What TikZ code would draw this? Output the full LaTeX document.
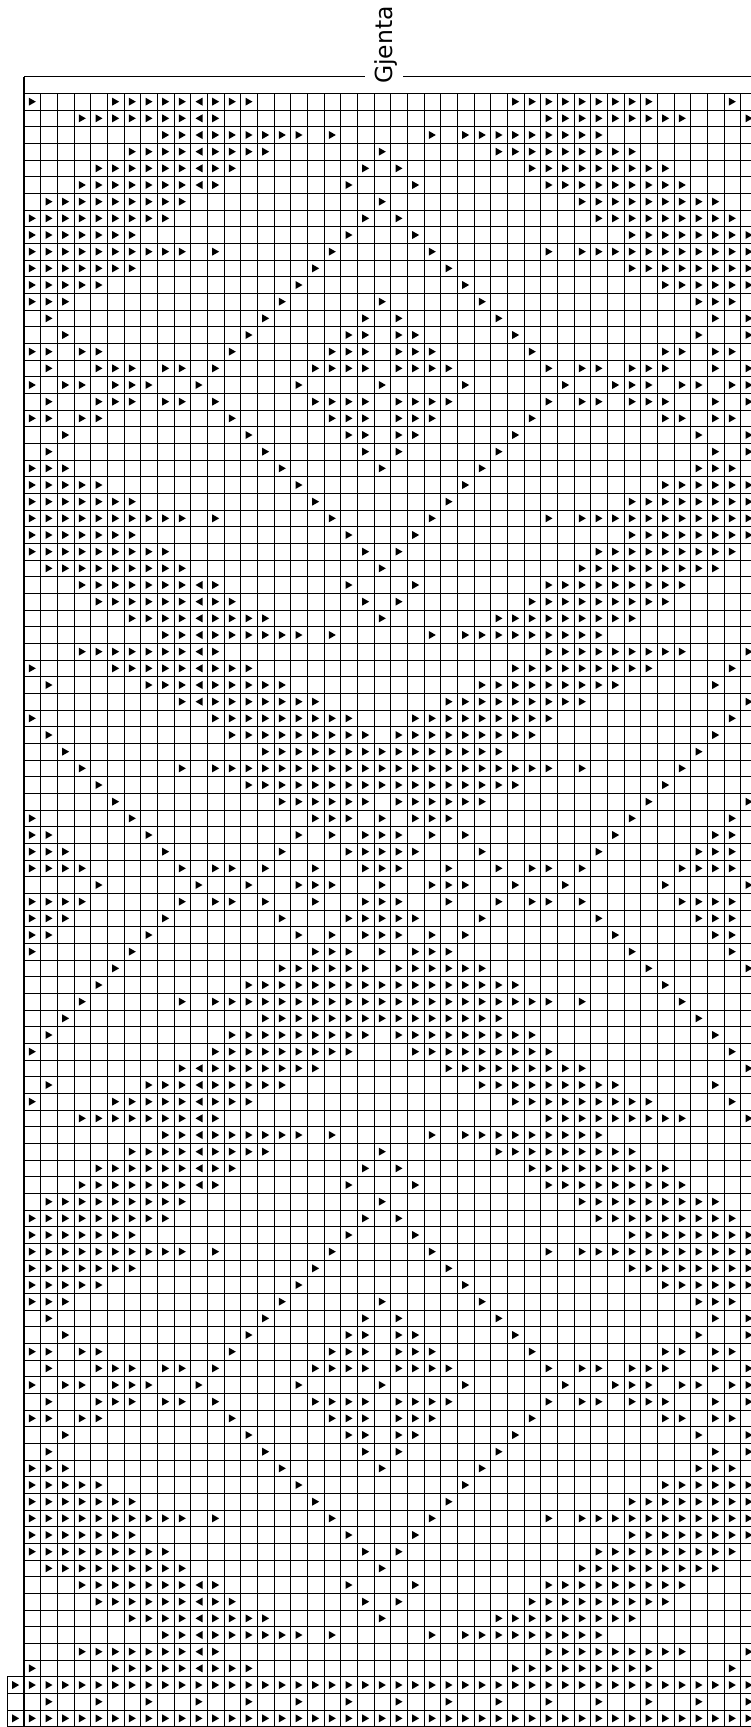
\documentclass[tikz,border=0pt]{standalone}
\usepackage{fontspec}
\setmainfont{DejaVu Sans}
\expandafter\def\csname pat1\endcsname{1/1,6/10,12/14,30/38,43/43}
\expandafter\def\csname pat2\endcsname{4/10,12/12,32/40,44/44}
\expandafter\def\csname pat3\endcsname{9/10,12/17,19/19,25/25,27/35}
\expandafter\def\csname pat4\endcsname{7/10,12/15,22/22,29/37}
\expandafter\def\csname pat5\endcsname{5/10,12/13,21/21,23/23,31/39}
\expandafter\def\csname pat6\endcsname{4/10,12/12,20/20,24/24,32/40}
\expandafter\def\csname pat7\endcsname{2/10,22/22,34/42}
\expandafter\def\csname pat8\endcsname{1/9,21/21,23/23,35/43}
\expandafter\def\csname pat9\endcsname{1/7,20/20,24/24,37/44}
\expandafter\def\csname pat10\endcsname{1/10,12/12,19/19,25/25,32/32,34/44}
\expandafter\def\csname pat11\endcsname{1/7,18/18,26/26,37/44}
\expandafter\def\csname pat12\endcsname{1/5,17/17,27/27,39/44}
\expandafter\def\csname pat13\endcsname{1/3,16/16,22/22,28/28,41/43}
\expandafter\def\csname pat14\endcsname{2/2,15/15,21/21,23/23,29/29,42/42,44/44}
\expandafter\def\csname pat15\endcsname{3/3,14/14,20/21,23/24,30/30,41/41,44/44}
\expandafter\def\csname pat16\endcsname{1/2,4/5,13/13,19/21,23/25,31/31,39/40,42/43}
\expandafter\def\csname pat17\endcsname{2/2,5/7,9/10,12/12,18/21,23/26,32/32,34/35,37/39,42/42,44/44}
\expandafter\def\csname pat18\endcsname{1/1,3/4,6/8,11/11,17/17,22/22,27/27,33/33,36/38,40/41,43/44}
\expandafter\def\csname pat36\endcsname{2/2,8/10,12/16,28/36,42/42}
\expandafter\def\csname pat37\endcsname{10/10,12/18,26/34,44/44}
\expandafter\def\csname pat38\endcsname{1/1,12/20,24/32,43/43}
\expandafter\def\csname pat39\endcsname{2/2,13/21,23/31,42/42}
\expandafter\def\csname pat40\endcsname{3/3,15/29,41/41}
\expandafter\def\csname pat41\endcsname{4/4,10/10,12/32,34/34,40/40}
\expandafter\def\csname pat42\endcsname{5/5,14/30,39/39}
\expandafter\def\csname pat43\endcsname{6/6,16/21,23/28,38/38,44/44}
\expandafter\def\csname pat44\endcsname{1/1,7/7,18/20,22/22,24/26,37/37,43/43}
\expandafter\def\csname pat45\endcsname{1/2,8/8,17/17,19/19,21/23,25/25,27/27,36/36,42/43}
\expandafter\def\csname pat46\endcsname{1/3,9/9,16/16,20/24,28/28,35/35,41/43}
\expandafter\def\csname pat47\endcsname{1/4,10/10,12/13,15/15,18/18,21/23,26/26,29/29,31/32,34/34,40/43}
\expandafter\def\csname pat48\endcsname{5/5,11/11,14/14,17/19,22/22,25/27,30/30,33/33,39/39,44/44}
\newcommand\rtri[2]{\fill ({24+(#1-0.5)*16.6667-3.5},{93.3333+(#2-0.5)*16.6667-4}) -- ++(7,4) -- ++(-7,4) -- cycle;}
\newcommand\ltri[2]{\fill ({24+(#1-0.5)*16.6667+3.5},{93.3333+(#2-0.5)*16.6667-4}) -- ++(-7,4) -- ++(7,4) -- cycle;}
\begin{document}
\begin{tikzpicture}[x=1bp,y=-1bp,
  gridline/.style={line width=0.9bp,black},
  frameline/.style={line width=1.2bp,black},
  titletext/.style={rotate=90,inner sep=0pt,font=\fontsize{23.5bp}{28bp}\selectfont}]
\useasboundingbox (0,0) rectangle (751,1727);
\fill[white] (0,0) rectangle (751,1727);
\begin{scope}
\clip (0,0) rectangle (751,1727);
% grid horizontals
\foreach \i in {0,...,95} {\draw[gridline] (24,{93.3333+\i*16.6667}) -- (752,{93.3333+\i*16.6667});}
\foreach \i in {95,...,98} {\draw[gridline] (7.3333,{93.3333+\i*16.6667}) -- (752,{93.3333+\i*16.6667});}
% grid verticals
\foreach \j in {1,...,43} {\draw[gridline] ({24+\j*16.6667},93.3333) -- ({24+\j*16.6667},1726.6667);}
\draw[gridline] (7.3333,1676.6667) -- (7.3333,1726.6667);
% frame
\draw[frameline] (24,76.6667) -- (365,76.6667);
\draw[frameline] (403,76.6667) -- (752,76.6667);
\draw[frameline] (24,76.6667) -- (24,1726.6667);
% main pattern
\foreach \r in {1,...,95} {
  \pgfmathtruncatemacro\k{(\r<=35)?((\r<=18)?\r:36-\r):((\r<=60)?((\r<=48)?\r:96-\r):((\r<=78)?\r-60:96-\r))}
  \expandafter\let\expandafter\lst\csname pat\k\endcsname
  \foreach \a/\b in \lst {\foreach \c in {\a,...,\b} {\rtri{\c}{\r}}}
  \pgfmathtruncatemacro\hasL{((\k<7)||(\k==36)||(\k==37))?1:0}
  \ifnum\hasL=1 \ltri{11}{\r}\fi
}
% bottom rows
\foreach \c in {0,...,44} {\rtri{\c}{96}\rtri{\c}{98}}
\foreach \c in {2,5,...,44} {\rtri{\c}{97}}
\end{scope}
\node[titletext] (title) at (386,45) {Gjenta};
\end{tikzpicture}
\end{document}
